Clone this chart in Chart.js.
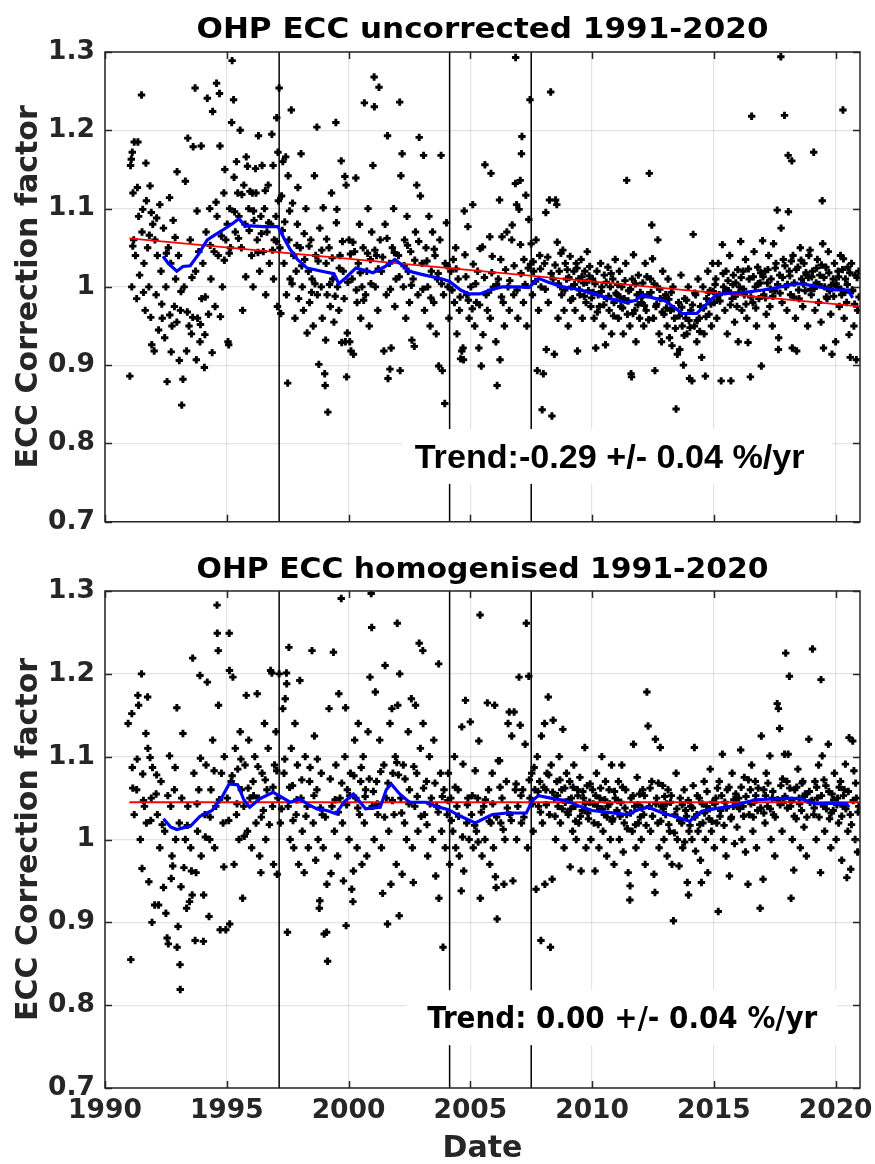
<!DOCTYPE html>
<html>
<head>
<meta charset="utf-8">
<script src="https://cdn.jsdelivr.net/npm/chart.js@4.4.1/dist/chart.umd.min.js"></script>
<style>
  html, body { margin: 0; padding: 0; background: #fff; }
  #wrap { position: relative; width: 875px; height: 1164px; }
  canvas { position: absolute; left: 0; }
</style>
</head>
<body>
<div id="wrap">
  <canvas id="topChart" width="875" height="545" style="top:0"></canvas>
  <canvas id="bottomChart" width="875" height="619" style="top:545px"></canvas>
</div>
<script>
// ---- data ----
const xTicks = [1990, 1995, 2000, 2005, 2010, 2015, 2020];
const yTicks = [0.7, 0.8, 0.9, 1.0, 1.1, 1.2, 1.3];
const breakDates = [1997.15, 2004.15, 2007.5];   // instrument changes (black lines)

const topTitle = 'OHP ECC uncorrected 1991-2020';
const bottomTitle = 'OHP ECC homogenised 1991-2020';
const topTrendText = 'Trend:-0.29 +/- 0.04 %/yr';
const bottomTrendText = 'Trend: 0.00 +/- 0.04 %/yr';

// linear fits (red)
const topTrendDates = [1991.0, 2021.0];
const topTrendValues = [1.062, 0.975];
const bottomTrendDates = [1991.0, 2021.0];
const bottomTrendValues = [1.045, 1.045];

// running means (blue)
const topMean = [[1992.38,1.039],[1992.6,1.03],[1992.95,1.02],[1993.2,1.026],[1993.5,1.027],[1993.8,1.04],[1994.2,1.06],[1994.5,1.066],[1994.85,1.073],[1995.2,1.08],[1995.5,1.087],[1995.75,1.078],[1996.0,1.078],[1996.5,1.077],[1997.1,1.077],[1997.35,1.062],[1997.6,1.048],[1997.9,1.035],[1998.3,1.024],[1998.9,1.02],[1999.4,1.017],[1999.6,1.004],[1999.9,1.012],[2000.3,1.024],[2000.7,1.021],[2001.0,1.018],[2001.5,1.026],[2001.9,1.035],[2002.2,1.028],[2002.5,1.02],[2003.0,1.016],[2003.85,1.01],[2004.15,1.007],[2004.6,0.996],[2004.95,0.991],[2005.4,0.991],[2005.8,0.996],[2006.3,1.0],[2007.0,1.0],[2007.4,0.999],[2007.8,1.011],[2008.2,1.006],[2008.8,1.0],[2009.4,0.997],[2010.0,0.992],[2010.6,0.986],[2011.4,0.98],[2011.8,0.983],[2012.05,0.99],[2012.5,0.986],[2013.0,0.982],[2013.4,0.973],[2013.7,0.966],[2014.3,0.966],[2014.7,0.978],[2015.1,0.99],[2015.6,0.992],[2016.3,0.993],[2017.0,0.996],[2017.6,0.999],[2018.0,1.002],[2018.5,1.004],[2019.0,1.002],[2019.6,0.998],[2020.0,0.996],[2020.5,0.996],[2020.7,0.986]];

const bottomMean = [[1992.4,1.025],[1992.7,1.015],[1992.95,1.012],[1993.2,1.014],[1993.5,1.016],[1993.9,1.028],[1994.4,1.035],[1994.8,1.051],[1995.1,1.067],[1995.45,1.066],[1995.7,1.048],[1995.94,1.039],[1996.35,1.049],[1996.9,1.057],[1997.2,1.052],[1997.6,1.045],[1998.0,1.049],[1998.3,1.043],[1998.7,1.037],[1999.1,1.035],[1999.5,1.031],[1999.8,1.045],[2000.2,1.055],[2000.7,1.037],[2001.3,1.039],[2001.55,1.06],[2001.75,1.067],[2002.1,1.055],[2002.5,1.045],[2003.2,1.045],[2003.6,1.04],[2004.1,1.036],[2004.6,1.028],[2005.2,1.02],[2005.9,1.03],[2006.5,1.032],[2007.3,1.032],[2007.55,1.047],[2007.8,1.053],[2008.3,1.05],[2008.9,1.047],[2009.5,1.04],[2010.0,1.035],[2010.6,1.033],[2011.4,1.03],[2011.9,1.036],[2012.3,1.039],[2012.9,1.032],[2013.6,1.026],[2014.0,1.022],[2014.5,1.034],[2015.0,1.037],[2015.7,1.04],[2016.2,1.044],[2016.7,1.048],[2017.5,1.049],[2018.0,1.05],[2018.6,1.049],[2019.0,1.045],[2019.2,1.043],[2019.8,1.044],[2020.45,1.043],[2020.55,1.039]];

// individual sonde correction factors, uncorrected [date, factor]
const topPoints = [
[1991.02,0.886],[1991.05,1.155],[1991.08,1.163],[1991.1,1.0],[1991.12,1.172],[1991.15,1.12],[1991.18,1.06],[1991.2,1.185],[1991.25,1.04],[1991.3,0.985],[1991.35,1.185],[1991.38,1.09],[1991.42,1.015],[1991.5,1.245],[1991.52,1.07],[1991.55,1.099],[1991.6,1.03],[1991.65,0.97],[1991.7,1.11],[1991.75,1.05],[1991.8,1.0],[1991.85,1.129],[1991.88,0.961],[1991.9,1.095],[1991.92,0.926],[1991.96,1.08],
[1992.02,0.918],[1992.05,1.06],[1992.1,0.99],[1992.15,1.04],[1992.2,0.945],[1992.25,1.105],[1992.3,1.02],[1992.35,0.96],[1992.4,1.075],[1992.45,0.935],[1992.5,1.0],[1992.55,0.879],[1992.6,1.05],[1992.65,1.114],[1992.66,0.964],[1992.7,1.03],[1992.75,0.95],[1992.8,1.085],[1992.85,0.975],[1992.9,1.01],[1992.95,0.955],[1992.96,1.147],
[1993.02,1.04],[1993.05,0.906],[1993.1,0.97],[1993.15,0.849],[1993.2,0.882],[1993.25,1.0],[1993.3,1.135],[1993.35,0.918],[1993.4,1.19],[1993.45,0.95],[1993.5,1.06],[1993.55,0.94],[1993.6,0.961],[1993.62,1.179],[1993.7,1.254],[1993.72,1.02],[1993.75,0.907],[1993.8,0.96],[1993.85,1.045],[1993.9,0.93],[1993.95,1.18],[1993.97,0.985],
[1994.02,1.03],[1994.08,0.897],[1994.1,0.939],[1994.15,1.07],[1994.2,1.241],[1994.25,0.965],[1994.3,1.1],[1994.35,1.01],[1994.4,0.916],[1994.42,1.224],[1994.48,1.045],[1994.52,0.975],[1994.58,1.26],[1994.6,1.09],[1994.65,1.04],[1994.7,1.247],[1994.72,1.18],[1994.78,1.065],[1994.82,1.0],[1994.88,1.12],[1994.92,1.15],[1994.96,1.06],
[1995.02,1.08],[1995.05,0.93],[1995.08,0.926],[1995.12,1.1],[1995.15,1.05],[1995.2,1.21],[1995.22,1.289],[1995.28,1.239],[1995.3,1.14],[1995.35,1.07],[1995.4,1.16],[1995.45,1.12],[1995.5,1.09],[1995.55,1.2],[1995.6,1.05],[1995.65,0.97],[1995.7,1.13],[1995.75,1.08],[1995.8,1.166],[1995.85,1.154],[1995.9,1.1],[1995.95,1.122],
[1996.02,1.04],[1996.05,1.12],[1996.08,1.0],[1996.12,1.085],[1996.18,1.151],[1996.2,1.12],[1996.25,1.06],[1996.3,1.193],[1996.35,1.02],[1996.4,1.09],[1996.45,1.155],[1996.5,1.045],[1996.55,1.1],[1996.6,0.99],[1996.65,1.07],[1996.7,1.13],[1996.75,1.03],[1996.8,1.08],[1996.85,1.195],[1996.9,1.155],[1996.92,1.01],[1996.95,1.06],
[1997.02,1.09],[1997.05,1.216],[1997.08,0.975],[1997.1,1.172],[1997.12,1.11],[1997.15,1.254],[1997.18,1.05],[1997.22,0.966],[1997.28,1.072],[1997.3,1.16],[1997.35,1.03],[1997.42,1.166],[1997.45,0.99],[1997.5,0.877],[1997.52,1.142],[1997.55,1.06],[1997.6,1.01],[1997.65,1.226],[1997.7,1.107],[1997.75,1.04],[1997.8,0.96],[1997.85,1.02],[1997.9,1.08],[1997.95,0.985],
[1998.02,1.05],[1998.05,1.17],[1998.1,1.0],[1998.15,0.97],[1998.2,1.035],[1998.25,1.1],[1998.3,0.941],[1998.35,1.02],[1998.4,0.98],[1998.45,1.06],[1998.5,1.01],[1998.55,0.95],[1998.6,1.142],[1998.65,1.04],[1998.7,1.204],[1998.72,0.99],[1998.78,0.901],[1998.82,1.075],[1998.88,1.0],[1998.92,0.96],[1998.96,1.101],
[1999.02,0.889],[1999.04,0.874],[1999.06,0.932],[1999.08,1.03],[1999.12,0.99],[1999.15,0.84],[1999.2,1.05],[1999.25,0.975],[1999.3,1.12],[1999.35,1.01],[1999.4,0.955],[1999.48,1.21],[1999.5,1.082],[1999.52,1.099],[1999.55,1.0],[1999.6,0.97],[1999.65,1.04],[1999.7,1.161],[1999.72,0.929],[1999.78,1.02],[1999.82,0.985],[1999.85,1.141],[1999.87,0.93],[1999.9,1.13],[1999.92,0.885],[1999.95,0.941],
[2000.02,1.06],[2000.05,0.93],[2000.1,0.918],[2000.15,1.01],[2000.2,0.914],[2000.25,1.045],[2000.3,1.139],[2000.35,0.98],[2000.4,1.03],[2000.45,1.08],[2000.5,0.96],[2000.55,1.0],[2000.6,1.05],[2000.65,1.235],[2000.7,0.99],[2000.75,1.02],[2000.8,1.1],[2000.85,0.95],[2000.9,1.035],[2000.95,1.07],
[2001.0,1.155],[2001.05,1.268],[2001.06,1.23],[2001.1,1.0],[2001.15,1.04],[2001.2,0.97],[2001.25,1.255],[2001.3,1.06],[2001.35,1.02],[2001.45,0.918],[2001.5,1.08],[2001.55,0.99],[2001.6,1.193],[2001.62,0.883],[2001.68,1.03],[2001.7,0.895],[2001.75,0.922],[2001.8,1.05],[2001.85,1.1],[2001.9,0.975],[2001.95,1.01],
[2002.05,1.04],[2002.1,1.236],[2002.12,0.893],[2002.15,1.142],[2002.2,1.17],[2002.25,1.0],[2002.3,1.06],[2002.35,0.96],[2002.4,1.09],[2002.45,1.02],[2002.5,0.98],[2002.55,1.045],[2002.6,0.932],[2002.65,1.01],[2002.7,0.924],[2002.75,1.07],[2002.8,1.13],[2002.85,0.99],[2002.9,1.191],[2002.95,1.116],
[2003.02,1.03],[2003.08,1.168],[2003.12,0.97],[2003.18,1.05],[2003.25,1.0],[2003.3,1.09],[2003.35,0.95],[2003.4,1.02],[2003.45,1.07],[2003.5,0.98],[2003.55,1.04],[2003.6,0.94],[2003.65,1.01],[2003.7,0.899],[2003.75,1.06],[2003.8,1.168],[2003.85,0.893],[2003.9,0.99],[2003.95,0.851],[2003.97,1.03],
[2004.02,1.082],[2004.08,1.0],[2004.12,0.96],[2004.2,1.02],[2004.3,1.035],[2004.35,0.98],[2004.4,1.05],[2004.45,0.94],[2004.5,1.01],[2004.55,0.97],[2004.6,0.908],[2004.65,0.918],[2004.7,0.922],[2004.72,0.907],[2004.75,1.097],[2004.78,1.041],[2004.85,0.99],[2004.9,1.077],[2004.95,0.96],
[2005.02,1.0],[2005.1,1.105],[2005.12,1.029],[2005.18,0.95],[2005.25,0.98],[2005.3,1.02],[2005.35,0.922],[2005.4,1.049],[2005.45,0.899],[2005.5,1.051],[2005.52,0.939],[2005.6,1.156],[2005.65,0.99],[2005.7,0.97],[2005.8,1.064],[2005.82,0.96],[2005.85,1.145],[2005.9,1.039],[2005.95,1.0],
[2006.05,0.93],[2006.1,0.874],[2006.15,1.01],[2006.2,1.111],[2006.22,0.907],[2006.25,1.035],[2006.3,1.064],[2006.35,0.98],[2006.4,0.95],[2006.5,1.07],[2006.55,1.0],[2006.6,0.97],[2006.7,1.06],[2006.72,1.079],[2006.78,0.99],[2006.85,1.132],[2006.86,1.293],[2006.9,1.105],[2006.95,0.96],
[2007.0,1.099],[2007.05,1.136],[2007.06,1.054],[2007.1,1.17],[2007.12,1.192],[2007.18,0.98],[2007.2,1.035],[2007.28,1.117],[2007.32,0.95],[2007.4,1.086],[2007.45,1.239],[2007.47,1.029],[2007.5,1.055],[2007.55,0.99],[2007.6,1.02],[2007.7,1.06],[2007.75,0.893],[2007.8,0.97],[2007.85,1.04],[2007.9,1.0],[2007.95,0.843],
[2008.0,0.889],[2008.05,1.03],[2008.1,1.095],[2008.12,0.92],[2008.2,0.98],[2008.25,1.111],[2008.3,1.249],[2008.35,0.835],[2008.4,1.01],[2008.45,0.914],[2008.5,1.111],[2008.55,1.105],[2008.57,1.057],[2008.6,0.96],[2008.65,1.02],[2008.7,1.0],[2008.75,0.99],[2008.8,1.047],[2008.85,0.97],[2008.9,1.03],[2008.95,1.01],
[2009.02,0.95],[2009.1,1.039],[2009.15,1.0],[2009.2,0.985],[2009.25,1.02],[2009.3,0.97],[2009.35,1.03],[2009.4,0.918],[2009.45,1.01],[2009.5,0.99],[2009.55,1.035],[2009.6,0.96],[2009.65,1.005],[2009.7,1.02],[2009.75,0.98],[2009.8,1.045],[2009.85,0.995],[2009.9,1.026],[2009.95,0.975],
[2010.02,1.01],[2010.08,0.96],[2010.15,0.922],[2010.2,1.02],[2010.25,0.99],[2010.3,0.975],[2010.35,1.03],[2010.4,1.0],[2010.45,0.95],[2010.5,1.015],[2010.55,0.926],[2010.6,0.985],[2010.65,1.025],[2010.7,0.97],[2010.75,1.0],[2010.8,0.94],[2010.85,1.01],[2010.9,0.98],[2010.95,1.035],
[2011.02,0.99],[2011.08,0.96],[2011.12,1.02],[2011.18,0.975],[2011.22,1.0],[2011.28,0.94],[2011.32,0.985],[2011.38,1.03],[2011.42,1.136],[2011.45,0.965],[2011.5,0.995],[2011.55,0.95],[2011.6,0.889],[2011.62,0.885],[2011.65,1.01],[2011.7,1.041],[2011.75,0.97],[2011.8,0.93],[2011.85,0.99],[2011.9,1.015],[2011.95,0.96],
[2012.02,0.98],[2012.08,1.005],[2012.12,0.95],[2012.18,1.03],[2012.22,0.97],[2012.28,0.99],[2012.35,1.145],[2012.4,1.01],[2012.45,1.079],[2012.48,1.036],[2012.52,0.96],[2012.58,0.893],[2012.62,0.975],[2012.68,1.0],[2012.7,1.06],[2012.75,0.94],[2012.8,0.985],[2012.85,0.93],[2012.9,1.02],[2012.95,0.965],
[2013.02,0.99],[2013.08,0.95],[2013.12,1.01],[2013.18,0.935],[2013.22,0.97],[2013.28,0.925],[2013.32,1.0],[2013.38,0.96],[2013.45,0.844],[2013.5,0.914],[2013.55,0.98],[2013.6,0.92],[2013.65,1.015],[2013.7,0.95],[2013.75,0.9],[2013.8,0.985],[2013.85,0.96],[2013.9,0.94],[2013.95,1.0],
[2014.0,0.883],[2014.05,0.97],[2014.1,0.88],[2014.15,1.067],[2014.2,0.95],[2014.25,0.99],[2014.3,0.93],[2014.35,1.01],[2014.4,0.96],[2014.45,0.975],[2014.5,0.91],[2014.55,1.0],[2014.6,0.94],[2014.65,0.886],[2014.7,0.985],[2014.75,1.02],[2014.8,0.965],[2014.85,0.995],[2014.9,0.95],[2014.95,1.03],
[2015.02,0.98],[2015.08,1.01],[2015.12,0.96],[2015.18,1.03],[2015.22,0.99],[2015.3,0.88],[2015.35,1.054],[2015.4,1.0],[2015.45,0.97],[2015.5,1.02],[2015.55,0.94],[2015.6,0.995],[2015.65,1.04],[2015.7,0.88],[2015.75,0.985],[2015.8,1.015],[2015.85,0.955],[2015.9,1.005],[2015.95,0.975],
[2016.0,0.93],[2016.05,1.0],[2016.1,1.058],[2016.15,0.97],[2016.2,1.02],[2016.25,0.99],[2016.3,1.035],[2016.35,0.96],[2016.4,0.929],[2016.45,1.01],[2016.5,0.885],[2016.55,1.218],[2016.6,0.98],[2016.65,1.045],[2016.7,1.0],[2016.75,0.95],[2016.8,1.025],[2016.85,0.985],[2016.9,1.005],[2016.95,0.899],
[2017.0,1.059],[2017.05,0.99],[2017.1,1.02],[2017.15,0.965],[2017.2,1.005],[2017.25,1.04],[2017.3,0.975],[2017.35,1.01],[2017.4,0.95],[2017.45,1.055],[2017.5,0.995],[2017.55,1.03],[2017.6,1.098],[2017.65,0.92],[2017.66,0.935],[2017.7,1.015],[2017.75,1.294],[2017.76,1.075],[2017.8,0.98],[2017.85,1.035],[2017.9,1.219],[2017.95,1.0],
[2018.0,0.97],[2018.05,1.168],[2018.06,1.096],[2018.1,1.02],[2018.15,0.99],[2018.2,1.161],[2018.22,0.922],[2018.25,1.04],[2018.3,1.005],[2018.35,0.96],[2018.4,0.918],[2018.45,1.025],[2018.5,0.985],[2018.55,1.05],[2018.6,1.01],[2018.65,0.975],[2018.7,1.03],[2018.75,0.995],[2018.8,1.015],[2018.85,0.95],[2018.9,1.04],[2018.95,1.047],
[2019.0,0.99],[2019.05,1.02],[2019.1,1.172],[2019.15,0.97],[2019.2,1.005],[2019.25,1.035],[2019.3,0.98],[2019.35,1.015],[2019.4,0.955],[2019.45,1.11],[2019.47,1.055],[2019.5,0.922],[2019.55,1.0],[2019.6,1.025],[2019.65,0.985],[2019.7,1.045],[2019.75,0.995],[2019.8,0.965],[2019.85,0.914],[2019.9,1.01],[2019.95,1.03],
[2020.0,0.93],[2020.05,1.0],[2020.1,1.02],[2020.15,0.975],[2020.2,1.04],[2020.25,0.99],[2020.3,1.226],[2020.32,1.036],[2020.35,0.96],[2020.4,1.01],[2020.45,0.98],[2020.5,1.025],[2020.55,0.939],[2020.6,0.91],[2020.65,1.03],[2020.7,0.995],[2020.75,0.95],[2020.8,1.015],[2020.85,0.907],[2020.9,0.97],[2020.95,1.02]
];

// the dense core of the uncorrected cloud, close to the running mean
const topCorePoints = [
[1991.14,1.052],[1991.33,1.127],[1991.58,0.993],[1991.68,1.158],[1991.82,1.066],
[1992.12,1.088],[1992.33,0.978],[1992.52,1.043],[1992.72,0.917],[1992.88,1.063],
[1993.12,0.994],[1993.38,0.968],[1993.57,1.012],[1993.78,1.097],[1993.92,0.952],
[1994.12,0.987],[1994.32,1.053],[1994.56,1.108],[1994.74,0.962],[1994.9,1.034],
[1995.1,1.043],[1995.32,1.096],[1995.48,1.062],[1995.62,1.118],[1995.78,1.013],[1995.92,1.072],
[1996.1,1.097],[1996.28,1.044],[1996.42,1.068],[1996.58,1.123],[1996.72,1.082],[1996.88,1.047],
[1997.04,1.058],[1997.25,1.116],[1997.38,1.083],[1997.58,1.097],[1997.68,1.004],[1997.88,1.053],[1997.92,1.127],
[1998.08,1.027],[1998.18,1.068],[1998.38,1.052],[1998.48,0.993],[1998.62,1.004],[1998.75,1.033],[1998.9,1.047],
[1999.1,1.061],[1999.22,1.003],[1999.33,1.037],[1999.45,0.988],[1999.62,1.024],[1999.75,1.058],[1999.97,1.006],
[2000.08,1.042],[2000.18,1.057],[2000.32,0.996],[2000.48,1.018],[2000.62,0.983],[2000.78,1.043],[2000.92,1.004],
[2001.08,1.047],[2001.22,1.023],[2001.4,1.038],[2001.58,1.062],[2001.72,0.997],[2001.88,1.044],
[2002.08,1.013],[2002.28,1.027],[2002.42,1.053],[2002.58,1.002],[2002.72,1.034],[2002.88,1.058],
[2003.05,0.997],[2003.22,1.033],[2003.38,0.986],[2003.52,1.048],[2003.68,1.017],[2003.82,1.004],
[2004.05,1.027],[2004.25,0.996],[2004.42,1.023],[2004.58,0.987],[2004.82,1.013],[2004.92,0.983],
[2005.08,0.972],[2005.22,1.004],[2005.38,0.977],[2005.58,1.012],[2005.75,0.993],[2005.88,1.018],
[2006.08,1.003],[2006.28,0.987],[2006.45,1.022],[2006.62,1.008],[2006.8,1.027],[2006.92,0.996],
[2007.08,1.017],[2007.25,1.003],[2007.38,1.024],[2007.58,1.032],[2007.68,1.007],[2007.88,1.023],
[2008.08,0.997],[2008.18,1.038],[2008.32,1.017],[2008.48,1.028],[2008.62,1.004],[2008.72,1.043],[2008.88,0.996],[2008.98,1.022],
[2009.05,1.012],[2009.12,0.983],[2009.28,1.003],[2009.38,1.024],[2009.48,0.996],[2009.58,1.013],[2009.68,0.988],[2009.78,1.006],[2009.88,1.014],[2009.98,0.986],
[2010.05,0.993],[2010.12,1.004],[2010.22,0.968],[2010.38,0.994],[2010.48,0.977],[2010.58,1.006],[2010.68,0.988],[2010.78,1.017],[2010.88,0.963],[2010.98,0.992],
[2011.05,1.003],[2011.15,0.987],[2011.25,0.973],[2011.35,1.008],[2011.48,0.982],[2011.58,0.997],[2011.68,0.966],[2011.78,1.004],[2011.88,0.977],[2011.98,0.993],
[2012.05,0.987],[2012.15,0.976],[2012.25,1.013],[2012.32,0.958],[2012.42,0.993],[2012.55,1.004],[2012.65,0.978],[2012.78,0.997],[2012.88,0.968],[2012.98,0.986],
[2013.05,0.973],[2013.15,0.984],[2013.25,0.993],[2013.35,0.972],[2013.42,0.947],[2013.58,0.963],[2013.68,0.974],[2013.78,0.938],[2013.88,0.983],[2013.98,0.957],
[2014.02,0.948],[2014.12,0.977],[2014.22,0.992],[2014.32,0.957],[2014.42,0.943],[2014.58,0.973],[2014.68,0.962],[2014.78,0.993],[2014.88,0.978],[2014.98,0.994],
[2015.05,1.003],[2015.15,0.987],[2015.25,0.982],[2015.38,1.017],[2015.48,0.994],[2015.58,1.008],[2015.68,0.977],[2015.78,1.003],[2015.88,0.988],[2015.98,1.022],
[2016.02,0.993],[2016.12,1.012],[2016.22,0.997],[2016.32,0.978],[2016.42,1.023],[2016.52,0.987],[2016.62,1.013],[2016.72,0.973],[2016.82,1.004],[2016.92,1.018],
[2017.02,1.013],[2017.12,0.986],[2017.22,1.022],[2017.32,0.997],[2017.42,0.988],[2017.52,1.024],[2017.62,1.003],[2017.72,0.992],[2017.82,1.012],[2017.92,1.027],
[2018.02,1.003],[2018.12,1.014],[2018.18,1.033],[2018.28,0.987],[2018.38,1.022],[2018.48,0.996],[2018.58,1.034],[2018.68,1.004],[2018.78,1.018],[2018.88,1.012],[2018.98,0.997],
[2019.02,1.013],[2019.12,0.998],[2019.22,1.024],[2019.32,1.003],[2019.42,1.028],[2019.52,1.012],[2019.62,0.987],[2019.72,1.018],[2019.82,1.002],[2019.92,0.988],
[2020.02,1.004],[2020.12,1.013],[2020.22,0.997],[2020.28,1.022],[2020.38,0.993],[2020.48,1.003],[2020.58,1.018],[2020.68,0.996],[2020.78,0.978],[2020.88,1.012],[2020.96,0.987]
];

// homogenised correction factors [date, factor]
const bottomPoints = [
[1990.95,1.14],[1991.06,0.855],[1991.1,1.152],[1991.12,1.087],[1991.2,1.03],[1991.3,1.06],[1991.35,1.174],[1991.38,1.162],[1991.45,1.0],[1991.5,1.2],[1991.52,0.965],[1991.55,1.079],[1991.62,1.04],[1991.7,1.02],[1991.75,1.172],[1991.76,1.11],[1991.8,0.949],[1991.85,1.099],[1991.9,1.05],[1991.93,0.9],[1991.95,1.087],
[1992.04,0.921],[1992.1,1.055],[1992.15,1.03],[1992.2,0.921],[1992.25,0.99],[1992.3,1.07],[1992.4,0.942],[1992.45,1.01],[1992.5,0.911],[1992.55,0.881],[1992.6,0.874],[1992.65,1.101],[1992.7,1.04],[1992.75,0.98],[1992.78,0.968],[1992.85,1.06],[1992.9,1.0],[1992.95,1.159],[1992.96,0.87],
[1993.0,0.895],[1993.05,1.02],[1993.08,0.849],[1993.09,0.819],[1993.15,1.05],[1993.2,1.128],[1993.24,0.966],[1993.3,1.0],[1993.35,0.917],[1993.4,1.04],[1993.47,0.925],[1993.52,0.99],[1993.58,0.933],[1993.6,1.219],[1993.65,1.08],[1993.7,0.878],[1993.74,0.96],[1993.8,1.01],[1993.85,1.06],[1993.9,1.198],[1993.95,0.98],
[1994.04,0.877],[1994.05,0.933],[1994.1,1.03],[1994.15,1.09],[1994.2,1.19],[1994.27,0.907],[1994.3,1.0],[1994.35,1.06],[1994.42,1.12],[1994.5,0.99],[1994.55,1.04],[1994.6,1.283],[1994.61,1.249],[1994.65,1.228],[1994.66,1.162],[1994.73,0.891],[1994.78,1.08],[1994.85,1.02],[1994.9,1.1],[1994.96,0.891],
[1995.02,1.05],[1995.1,1.249],[1995.11,1.204],[1995.12,0.898],[1995.18,1.07],[1995.25,1.196],[1995.3,0.97],[1995.35,1.11],[1995.4,1.03],[1995.45,1.085],[1995.5,1.0],[1995.55,1.13],[1995.6,1.06],[1995.65,0.929],[1995.7,1.04],[1995.75,1.09],[1995.8,1.174],[1995.85,1.01],[1995.9,1.12],[1995.95,1.05],
[1996.02,0.99],[1996.08,1.07],[1996.15,1.1],[1996.2,1.02],[1996.25,1.176],[1996.3,1.05],[1996.35,0.98],[1996.4,0.96],[1996.45,1.08],[1996.5,1.035],[1996.55,1.14],[1996.6,1.0],[1996.65,1.06],[1996.7,1.11],[1996.8,1.204],[1996.85,1.201],[1996.88,1.04],[1996.92,0.97],[1996.96,1.09],
[1997.02,1.13],[1997.07,0.958],[1997.1,1.05],[1997.15,1.2],[1997.2,1.02],[1997.3,1.158],[1997.35,1.08],[1997.4,1.17],[1997.45,1.201],[1997.46,1.188],[1997.49,0.888],[1997.52,1.04],[1997.55,1.232],[1997.6,1.0],[1997.65,1.11],[1997.7,1.065],[1997.75,0.99],[1997.8,1.14],[1997.85,1.03],[1997.9,1.09],[1997.95,0.97],
[1998.0,1.192],[1998.05,1.05],[1998.1,1.01],[1998.18,0.96],[1998.22,1.1],[1998.3,1.04],[1998.35,0.99],[1998.4,1.07],[1998.5,1.228],[1998.55,1.02],[1998.6,1.125],[1998.65,0.975],[1998.7,1.06],[1998.75,1.0],[1998.8,0.917],[1998.82,0.926],[1998.88,1.08],[1998.92,1.03],[1998.96,0.99],
[1999.0,0.886],[1999.1,0.888],[1999.11,0.946],[1999.14,0.853],[1999.2,1.158],[1999.28,0.959],[1999.32,1.04],[1999.38,1.226],[1999.42,1.01],[1999.48,1.09],[1999.55,0.98],[1999.6,1.176],[1999.65,1.05],[1999.7,1.291],[1999.75,1.02],[1999.79,0.95],[1999.85,1.1],[1999.88,1.159],[1999.9,0.896],[1999.95,1.06],
[2000.02,1.0],[2000.08,1.08],[2000.13,0.94],[2000.18,0.925],[2000.2,0.962],[2000.25,1.12],[2000.3,1.05],[2000.35,0.99],[2000.4,1.14],[2000.45,1.03],[2000.5,1.07],[2000.55,0.97],[2000.6,1.1],[2000.65,1.02],[2000.7,1.06],[2000.75,0.98],[2000.8,1.13],[2000.88,1.196],[2000.93,1.297],[2000.95,1.256],[2000.97,1.04],
[2001.05,1.0],[2001.1,1.178],[2001.15,1.07],[2001.2,1.03],[2001.28,1.12],[2001.35,0.99],[2001.4,0.935],[2001.45,1.09],[2001.5,1.21],[2001.55,1.05],[2001.6,0.898],[2001.65,1.01],[2001.7,1.14],[2001.74,0.946],[2001.78,1.158],[2001.82,1.08],[2001.87,1.03],[2001.92,1.1],[2001.96,0.97],
[2002.0,1.261],[2002.02,1.162],[2002.08,0.908],[2002.1,1.2],[2002.15,1.05],[2002.2,0.958],[2002.25,1.09],[2002.3,1.02],[2002.38,1.0],[2002.45,1.13],[2002.5,1.06],[2002.58,1.17],[2002.62,0.99],[2002.66,0.948],[2002.72,1.04],[2002.75,1.162],[2002.8,1.08],[2002.85,1.01],[2002.9,1.237],[2002.95,1.11],
[2003.05,1.228],[2003.06,1.14],[2003.12,1.03],[2003.2,1.07],[2003.25,0.98],[2003.32,1.1],[2003.4,1.05],[2003.45,1.0],[2003.5,1.12],[2003.58,0.956],[2003.62,1.04],[2003.7,1.212],[2003.71,0.929],[2003.78,1.08],[2003.82,1.01],[2003.88,0.87],[2003.92,1.06],[2003.97,0.99],
[2004.05,1.03],[2004.1,1.08],[2004.15,0.97],[2004.2,1.05],[2004.28,1.01],[2004.35,1.1],[2004.4,0.99],[2004.45,1.04],[2004.5,1.06],[2004.55,0.98],[2004.63,0.938],[2004.65,1.136],[2004.7,1.091],[2004.73,0.962],[2004.8,1.168],[2004.85,1.02],[2004.9,1.05],[2004.95,1.0],
[2005.0,1.142],[2005.05,1.03],[2005.12,0.99],[2005.2,1.083],[2005.25,1.01],[2005.3,1.05],[2005.35,1.119],[2005.4,1.271],[2005.41,0.929],[2005.48,0.98],[2005.55,1.04],[2005.6,1.0],[2005.7,1.165],[2005.75,1.06],[2005.8,0.97],[2005.85,1.02],[2005.9,1.08],[2005.95,0.99],
[2006.0,1.162],[2006.03,0.955],[2006.06,0.942],[2006.1,0.904],[2006.15,1.095],[2006.2,1.095],[2006.25,1.02],[2006.3,1.05],[2006.38,0.946],[2006.42,1.0],[2006.48,1.07],[2006.55,1.14],[2006.6,1.154],[2006.62,1.03],[2006.7,1.125],[2006.75,0.95],[2006.8,1.154],[2006.85,1.06],[2006.9,1.0],[2006.95,1.04],
[2007.0,1.196],[2007.05,1.138],[2007.1,1.02],[2007.15,1.06],[2007.25,1.115],[2007.3,1.261],[2007.35,0.99],[2007.4,1.197],[2007.45,1.05],[2007.52,1.08],[2007.58,1.01],[2007.65,1.06],[2007.7,0.94],[2007.75,1.1],[2007.8,1.04],[2007.85,1.07],[2007.9,0.878],[2007.92,1.125],[2007.96,1.02],
[2008.05,1.14],[2008.06,0.946],[2008.1,1.06],[2008.15,1.08],[2008.2,1.172],[2008.25,1.03],[2008.29,0.87],[2008.32,1.09],[2008.36,0.952],[2008.4,1.144],[2008.45,1.05],[2008.5,1.0],[2008.55,1.07],[2008.6,1.04],[2008.65,1.1],[2008.7,1.02],[2008.75,1.06],[2008.8,1.133],[2008.85,0.99],[2008.9,1.045],[2008.95,1.08],
[2009.02,1.03],[2009.08,1.07],[2009.1,0.967],[2009.15,1.05],[2009.2,1.01],[2009.25,1.09],[2009.3,1.04],[2009.35,1.0],[2009.4,1.06],[2009.45,1.02],[2009.5,1.075],[2009.55,0.962],[2009.6,1.035],[2009.65,1.05],[2009.7,1.111],[2009.75,0.99],[2009.8,1.065],[2009.85,1.025],[2009.9,1.045],[2009.95,1.0],
[2010.02,1.06],[2010.08,1.02],[2010.12,0.962],[2010.18,1.08],[2010.22,1.04],[2010.28,0.99],[2010.32,1.05],[2010.4,1.1],[2010.45,1.01],[2010.5,1.03],[2010.55,1.07],[2010.6,0.98],[2010.65,1.04],[2010.7,1.06],[2010.75,1.0],[2010.8,1.09],[2010.85,1.025],[2010.9,0.97],[2010.95,1.05],
[2011.02,1.035],[2011.08,1.07],[2011.12,1.0],[2011.18,1.045],[2011.22,1.09],[2011.28,0.985],[2011.32,1.02],[2011.38,1.06],[2011.42,1.03],[2011.48,0.96],[2011.55,0.927],[2011.56,0.944],[2011.6,1.05],[2011.65,1.01],[2011.7,1.115],[2011.75,1.04],[2011.8,0.99],[2011.85,1.075],[2011.9,1.02],[2011.95,1.055],
[2012.02,1.0],[2012.08,1.06],[2012.12,1.03],[2012.18,0.97],[2012.25,1.178],[2012.3,1.137],[2012.35,1.04],[2012.4,1.01],[2012.45,1.07],[2012.54,0.958],[2012.58,0.936],[2012.6,1.121],[2012.65,1.05],[2012.7,1.02],[2012.75,0.99],[2012.8,1.111],[2012.85,1.04],[2012.9,1.065],[2012.95,1.0],
[2013.02,1.03],[2013.08,0.98],[2013.12,1.06],[2013.18,1.01],[2013.22,1.045],[2013.28,0.97],[2013.34,0.902],[2013.4,1.03],[2013.45,1.08],[2013.5,1.0],[2013.57,0.968],[2013.62,1.05],[2013.68,1.02],[2013.72,0.99],[2013.78,1.06],[2013.84,1.035],[2013.91,0.948],[2013.96,0.933],[2013.98,1.01],
[2014.05,1.04],[2014.1,1.0],[2014.15,1.065],[2014.2,1.111],[2014.25,0.986],[2014.3,1.03],[2014.35,1.01],[2014.4,1.05],[2014.45,0.975],[2014.49,0.948],[2014.55,1.02],[2014.6,1.07],[2014.65,1.0],[2014.7,1.04],[2014.75,0.96],[2014.8,1.025],[2014.85,1.085],[2014.9,1.01],[2014.95,1.045],
[2015.02,0.99],[2015.08,1.05],[2015.12,1.02],[2015.18,0.913],[2015.22,1.07],[2015.28,1.035],[2015.35,1.103],[2015.4,1.0],[2015.45,1.045],[2015.5,0.98],[2015.55,1.06],[2015.64,0.956],[2015.7,1.025],[2015.75,1.08],[2015.8,1.04],[2015.85,0.995],[2015.9,1.055],[2015.95,1.015],
[2016.02,1.05],[2016.1,1.108],[2016.15,1.0],[2016.2,1.04],[2016.25,1.075],[2016.3,0.985],[2016.4,0.946],[2016.45,1.03],[2016.5,1.06],[2016.55,1.09],[2016.6,1.01],[2016.65,1.045],[2016.7,1.07],[2016.75,0.99],[2016.8,1.035],[2016.9,0.917],[2016.95,1.125],
[2017.02,0.952],[2017.05,1.06],[2017.1,1.02],[2017.15,1.08],[2017.2,1.04],[2017.3,1.101],[2017.35,1.0],[2017.4,1.05],[2017.45,1.03],[2017.5,0.98],[2017.6,1.164],[2017.65,1.158],[2017.7,1.134],[2017.75,1.065],[2017.8,1.01],[2017.85,1.045],[2017.9,1.103],[2017.95,1.225],
[2018.0,1.07],[2018.05,1.103],[2018.1,1.197],[2018.15,1.04],[2018.17,0.929],[2018.22,1.0],[2018.28,0.963],[2018.32,1.06],[2018.38,1.025],[2018.45,1.085],[2018.5,1.05],[2018.55,0.99],[2018.6,1.035],[2018.65,1.07],[2018.7,1.015],[2018.75,1.055],[2018.8,0.98],[2018.9,1.121],[2018.95,1.045],
[2019.05,1.23],[2019.1,1.03],[2019.15,1.07],[2019.2,1.0],[2019.25,1.05],[2019.3,1.09],[2019.38,0.96],[2019.4,1.193],[2019.45,1.101],[2019.5,1.04],[2019.55,1.01],[2019.6,1.065],[2019.7,1.115],[2019.75,1.025],[2019.8,0.99],[2019.85,1.055],[2019.9,1.035],[2019.95,1.08],
[2020.02,1.0],[2020.08,1.05],[2020.12,1.02],[2020.2,1.07],[2020.25,0.975],[2020.3,1.04],[2020.35,1.06],[2020.4,1.091],[2020.46,0.954],[2020.5,1.01],[2020.55,1.123],[2020.6,1.03],[2020.62,0.964],[2020.7,1.119],[2020.75,1.083],[2020.8,1.0],[2020.85,1.05],[2020.9,0.985],[2020.95,1.04]
];

// the dense core of the homogenised cloud around 1.045
const bottomCorePoints = [
[1991.14,1.062],[1991.32,1.097],[1991.58,1.047],[1991.68,1.128],[1991.88,1.023],
[1992.12,1.078],[1992.35,1.018],[1992.58,1.053],[1992.72,0.953],[1992.88,1.087],
[1993.12,0.943],[1993.38,1.017],[1993.55,0.962],[1993.78,1.043],[1993.92,1.098],
[1994.12,1.003],[1994.32,1.027],[1994.48,1.083],[1994.7,1.048],[1994.88,0.967],
[1995.08,1.023],[1995.22,1.077],[1995.42,1.043],[1995.58,1.097],[1995.72,1.004],[1995.88,1.062],
[1996.1,1.053],[1996.28,1.088],[1996.42,1.027],[1996.58,1.072],[1996.75,1.018],[1996.9,1.063],
[1997.05,1.083],[1997.25,1.037],[1997.38,1.097],[1997.58,1.063],[1997.72,1.023],[1997.88,1.048],
[1998.08,1.072],[1998.25,1.028],[1998.42,1.087],[1998.58,1.053],[1998.72,1.097],[1998.85,1.038],
[1999.05,1.027],[1999.25,1.073],[1999.45,1.048],[1999.58,1.033],[1999.72,1.068],[1999.92,1.042],
[2000.05,1.053],[2000.22,1.077],[2000.38,1.038],[2000.52,1.087],[2000.68,1.052],[2000.85,1.073],
[2001.02,1.058],[2001.18,1.043],[2001.32,1.082],[2001.48,1.027],[2001.62,1.068],[2001.8,1.047],[2001.98,1.093],
[2002.05,1.078],[2002.18,1.032],[2002.32,1.073],[2002.48,1.043],[2002.68,1.088],[2002.82,1.052],[2002.98,1.028],
[2003.08,1.062],[2003.22,1.018],[2003.35,1.043],[2003.55,1.068],[2003.68,1.033],[2003.85,1.052],
[2004.08,1.047],[2004.22,1.023],[2004.38,1.063],[2004.52,1.028],[2004.68,1.003],[2004.88,1.042],
[2005.08,1.053],[2005.18,1.017],[2005.32,0.997],[2005.45,1.033],[2005.62,1.048],[2005.78,1.022],[2005.92,1.043],
[2006.08,1.027],[2006.22,1.063],[2006.35,1.012],[2006.52,1.038],[2006.68,1.023],[2006.88,1.067],
[2007.08,1.053],[2007.2,1.027],[2007.42,1.072],[2007.55,1.043],[2007.62,1.087],[2007.78,1.058],[2007.88,1.033],
[2008.02,1.063],[2008.12,1.042],[2008.22,1.078],[2008.38,1.057],[2008.48,1.028],[2008.58,1.053],[2008.68,1.072],[2008.78,1.037],[2008.88,1.062],[2008.98,1.033],
[2009.05,1.048],[2009.12,1.037],[2009.22,1.063],[2009.32,1.022],[2009.42,1.053],[2009.52,1.028],[2009.62,1.058],[2009.72,1.043],[2009.82,1.032],[2009.92,1.067],
[2010.05,1.043],[2010.15,1.053],[2010.25,1.018],[2010.35,1.062],[2010.42,1.037],[2010.52,1.048],[2010.62,1.027],[2010.72,1.043],[2010.82,1.022],[2010.92,1.058],
[2011.05,1.047],[2011.15,1.028],[2011.25,1.063],[2011.35,1.038],[2011.45,1.013],[2011.58,1.032],[2011.68,1.053],[2011.78,1.018],[2011.88,1.042],[2011.98,1.027],
[2012.05,1.038],[2012.15,1.053],[2012.22,1.017],[2012.38,1.062],[2012.48,1.028],[2012.62,1.043],[2012.72,1.068],[2012.82,1.022],[2012.92,1.037],[2012.98,1.052],
[2013.05,1.043],[2013.15,1.018],[2013.25,1.053],[2013.38,1.008],[2013.48,1.037],[2013.6,1.023],[2013.7,1.042],[2013.8,0.997],[2013.88,1.028],[2013.95,1.047],
[2014.02,1.017],[2014.12,1.038],[2014.22,1.027],[2014.32,1.053],[2014.42,1.018],[2014.52,1.043],[2014.62,1.032],[2014.72,1.058],[2014.82,1.037],[2014.92,1.022],
[2015.05,1.043],[2015.15,1.062],[2015.25,1.028],[2015.32,1.053],[2015.42,1.017],[2015.52,1.038],[2015.62,1.063],[2015.72,1.027],[2015.82,1.048],[2015.92,1.042],
[2016.05,1.037],[2016.12,1.063],[2016.22,1.028],[2016.32,1.052],[2016.42,1.072],[2016.52,1.043],[2016.62,1.027],[2016.72,1.053],[2016.82,1.062],[2016.92,1.038],
[2017.05,1.032],[2017.12,1.053],[2017.22,1.068],[2017.32,1.037],[2017.42,1.058],[2017.52,1.027],[2017.62,1.048],[2017.72,1.042],[2017.82,1.073],[2017.92,1.052],
[2018.02,1.038],[2018.12,1.062],[2018.2,1.047],[2018.3,1.028],[2018.4,1.063],[2018.52,1.043],[2018.62,1.068],[2018.72,1.052],[2018.82,1.027],[2018.92,1.058],
[2019.02,1.047],[2019.12,1.038],[2019.22,1.063],[2019.32,1.027],[2019.42,1.053],[2019.52,1.072],[2019.62,1.037],[2019.72,1.058],[2019.82,1.032],[2019.92,1.048],
[2020.05,1.042],[2020.15,1.063],[2020.25,1.028],[2020.32,1.053],[2020.42,1.037],[2020.52,1.058],[2020.65,1.018],[2020.72,1.047],[2020.82,1.068],[2020.92,1.033]
];

// ---- drawing ----
const axisFont = '"DejaVu Sans", sans-serif';
const tickColor = '#262626';
const gridColor = 'rgba(0,0,0,0.11)';

function toXY(pairs) { return pairs.map(p => ({ x: p[0], y: p[1] })); }

// white trend box, inward ticks, axes box and panel title
const panelDecor = {
  id: 'panelDecor',
  afterDatasetsDraw(chart, args, o) {
    const { ctx, chartArea: a, scales: { x, y } } = chart;
    ctx.save();
    // trend label box
    const bx0 = x.getPixelForValue(o.box[0]), bx1 = x.getPixelForValue(o.box[1]);
    const by0 = y.getPixelForValue(o.box[2]), by1 = y.getPixelForValue(o.box[3]);
    ctx.fillStyle = '#fff';
    ctx.fillRect(bx0, by0, bx1 - bx0, by1 - by0);
    ctx.font = o.textFont;
    const sx = o.textWidth / ctx.measureText(o.text).width;
    ctx.translate(x.getPixelForValue(o.textAt[0]), y.getPixelForValue(o.textAt[1]));
    ctx.scale(sx, 1);
    ctx.fillStyle = '#000';
    ctx.textAlign = 'center';
    ctx.textBaseline = 'alphabetic';
    ctx.fillText(o.text, 0, 0);
    ctx.restore();

    // inward ticks and frame
    ctx.save();
    ctx.strokeStyle = tickColor;
    ctx.lineWidth = 1.5;
    ctx.beginPath();
    xTicks.forEach(v => {
      const px = Math.round(x.getPixelForValue(v)) + 0.5;
      ctx.moveTo(px, a.top); ctx.lineTo(px, a.top + 7);
      ctx.moveTo(px, a.bottom); ctx.lineTo(px, a.bottom - 7);
    });
    yTicks.forEach(v => {
      const py = Math.round(y.getPixelForValue(v)) + 0.5;
      ctx.moveTo(a.left, py); ctx.lineTo(a.left + 7, py);
      ctx.moveTo(a.right, py); ctx.lineTo(a.right - 7, py);
    });
    ctx.stroke();
    ctx.strokeRect(a.left, a.top, a.right - a.left, a.bottom - a.top);

    // panel title centred over the plot
    ctx.font = 'bold 28px ' + axisFont;
    const tx = o.titleWidth / ctx.measureText(o.title).width;
    ctx.translate((a.left + a.right) / 2, o.titleBaseline);
    ctx.scale(tx, 1);
    ctx.fillStyle = '#000';
    ctx.textAlign = 'center';
    ctx.textBaseline = 'alphabetic';
    ctx.fillText(o.title, 0, 0);
    ctx.restore();
  }
};

function buildPanel(canvasId, points, corePoints, mean, trendDates, trendValues, cfg) {
  const marker = { pointStyle: 'cross', pointRadius: 3.7, borderColor: '#000', borderWidth: 2.9, order: 4 };
  const breakSets = breakDates.map(d => ({
    data: [{ x: d, y: 0.7 }, { x: d, y: 1.3 }],
    showLine: true, borderColor: '#000', borderWidth: 1.5, pointRadius: 0, order: 3
  }));
  return new Chart(document.getElementById(canvasId), {
    type: 'scatter',
    data: {
      datasets: [
        Object.assign({ data: toXY(points) }, marker),
        Object.assign({ data: toXY(corePoints) }, marker),
        ...breakSets,
        { data: trendDates.map((d, i) => ({ x: d, y: trendValues[i] })), showLine: true,
          borderColor: '#ff0000', borderWidth: 1.8, pointRadius: 0, order: 1 },
        { data: toXY(mean), showLine: true, borderColor: '#0000ff', borderWidth: 3.2,
          pointRadius: 0, order: 0 }
      ]
    },
    options: {
      responsive: false,
      animation: false,
      events: [],
      layout: { padding: cfg.padding },
      plugins: {
        legend: { display: false },
        tooltip: { enabled: false },
        panelDecor: cfg.decor
      },
      scales: {
        x: {
          type: 'linear', min: 1990, max: 2021,
          afterBuildTicks: s => { s.ticks = xTicks.map(v => ({ value: v })); },
          afterFit: s => { s.height = cfg.xHeight; s.paddingLeft = 0; s.paddingRight = 0; },
          border: { display: false },
          grid: { color: gridColor, lineWidth: 1.2, drawTicks: false },
          ticks: {
            display: cfg.showX, padding: 10, color: tickColor, maxRotation: 0, autoSkip: false,
            font: { family: axisFont, size: 26.5, weight: 'bold', lineHeight: 1 },
            callback: v => String(v)
          },
          title: {
            display: cfg.showX, text: 'Date', color: tickColor,
            font: { family: axisFont, size: 30, weight: 'bold', lineHeight: 1 },
            padding: { top: 0, bottom: 0 }
          }
        },
        y: {
          min: 0.7, max: 1.3,
          afterBuildTicks: s => { s.ticks = yTicks.map(v => ({ value: v })); },
          afterFit: s => { s.width = 105; },
          border: { display: false },
          grid: { color: gridColor, lineWidth: 1.2, drawTicks: false },
          ticks: {
            padding: 10, color: tickColor,
            font: { family: axisFont, size: 26.5, weight: 'bold', lineHeight: 1 },
            callback: v => String(+v.toFixed(1))
          },
          title: {
            display: true, text: 'ECC Correction factor', color: tickColor,
            font: { family: axisFont, size: 30, weight: 'bold', lineHeight: 1 },
            padding: { top: 14, bottom: 0 }
          }
        }
      }
    },
    plugins: [panelDecor]
  });
}

buildPanel('topChart', topPoints, topCorePoints, topMean, topTrendDates, topTrendValues, {
  padding: { top: 52, right: 15, bottom: 14, left: 0 },
  xHeight: 0,
  showX: false,
  decor: {
    title: topTitle, titleBaseline: 38, titleWidth: 572,
    text: topTrendText, textFont: 'bold 34px "Liberation Sans", Arial, sans-serif', textWidth: 390,
    textAt: [2010.72, 0.7684],
    box: [2002.19, 2019.87, 0.8184, 0.7484]
  }
});

buildPanel('bottomChart', bottomPoints, bottomCorePoints, bottomMean, bottomTrendDates, bottomTrendValues, {
  padding: { top: 46, right: 15, bottom: 0, left: 0 },
  xHeight: 76,
  showX: true,
  decor: {
    title: bottomTitle, titleBaseline: 33, titleWidth: 572,
    text: bottomTrendText, textFont: 'bold 31px "DejaVu Sans Condensed", "DejaVu Sans", sans-serif', textWidth: 390,
    textAt: [2011.24, 0.7722],
    box: [2002.4, 2020.08, 0.8181, 0.7517]
  }
});
</script>
</body>
</html>
